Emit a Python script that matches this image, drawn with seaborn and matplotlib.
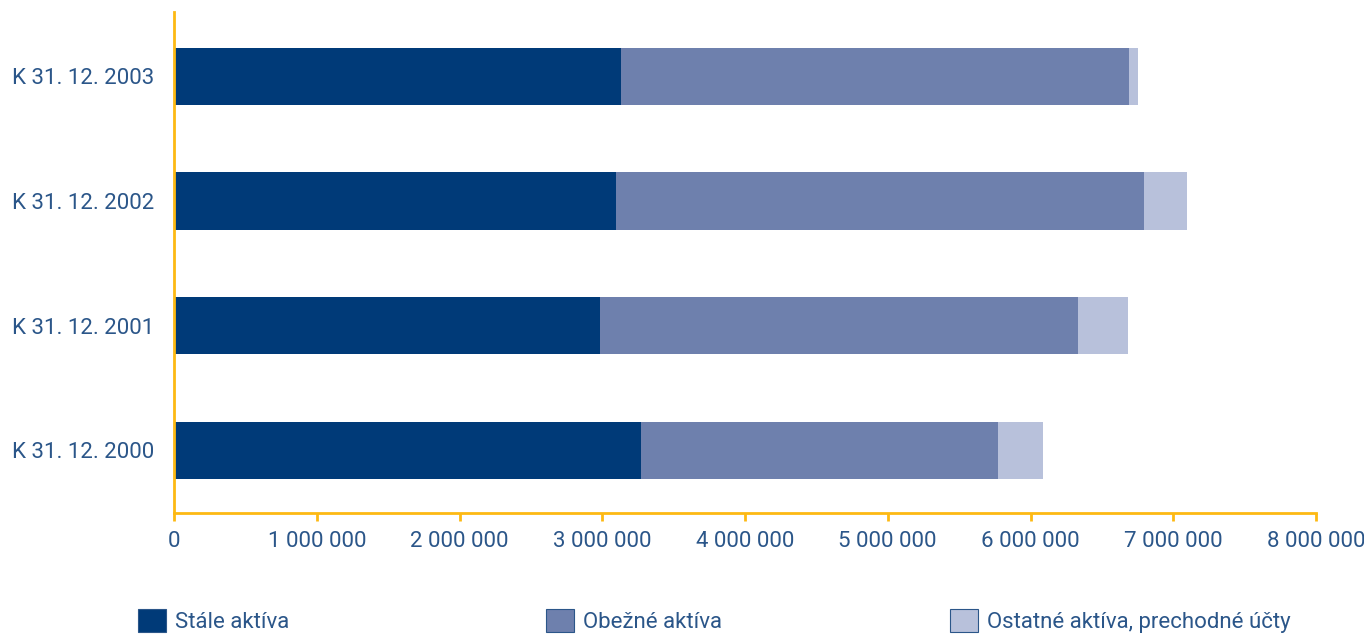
import pandas as pd
import matplotlib
matplotlib.use("Agg")
import matplotlib.pyplot as plt
import matplotlib.ticker as ticker
from matplotlib.patches import Patch
import seaborn as sns

# data (thousands of SKK)
periods = ["K 31. 12. 2003", "K 31. 12. 2002", "K 31. 12. 2001", "K 31. 12. 2000"]
stale = [3131000, 3096000, 2984000, 3271000]
obezne = [3559000, 3699000, 3349000, 2501000]
ostatne = [63000, 301000, 350000, 315000]
series_names = ["Stále aktíva", "Obežné aktíva", "Ostatné aktíva, prechodné účty"]
colors = ["#003a78", "#6e80ad", "#b8c1db"]

text_color = "#2b5689"
axis_color = "#fdb913"

df = pd.DataFrame({"period": periods, "stale": stale, "obezne": obezne, "ostatne": ostatne})
df["c1"] = df["stale"]
df["c2"] = df["c1"] + df["obezne"]
df["c3"] = df["c2"] + df["ostatne"]

sns.set_theme(style="white")
plt.rcParams["font.family"] = ["Roboto", "DejaVu Sans"]

fig = plt.figure(figsize=(13.64, 6.39), dpi=100)
ax = fig.add_axes([174 / 1364, 1 - 513 / 639, (1316 - 174) / 1364, (513 - 12) / 639])

# draw cumulative totals, largest first, so the stacks overlap correctly
for col, color in zip(["c3", "c2", "c1"], colors[::-1]):
    sns.barplot(data=df, x=col, y="period", orient="h", color=color,
                width=0.46, saturation=1, linewidth=0, ax=ax, order=periods)

ax.set_xlim(0, 8000000)
ax.set_ylim(3.503, -0.515)
ax.set_xlabel("")
ax.set_ylabel("")
ax.xaxis.set_major_locator(ticker.MultipleLocator(1000000))
ax.xaxis.set_major_formatter(ticker.FuncFormatter(lambda v, p: f"{int(v):,}".replace(",", " ")))

for side in ["top", "right"]:
    ax.spines[side].set_visible(False)
for side in ["left", "bottom"]:
    ax.spines[side].set_color(axis_color)
    ax.spines[side].set_linewidth(2)

ax.tick_params(axis="x", bottom=True, colors=axis_color, length=6, width=2, direction="out",
               labelcolor=text_color, labelsize=16, pad=7)
ax.tick_params(axis="y", left=False, length=0, labelcolor=text_color, labelsize=16, pad=14)

# legend: three separate entries spread along the bottom
legend_x = [138, 546, 950]
for name, color, x in zip(series_names, colors, legend_x):
    leg = fig.legend(handles=[Patch(facecolor=color, edgecolor=text_color, linewidth=0.8)],
                     labels=[name], loc="center left",
                     bbox_to_anchor=(x / 1364, 1 - 621 / 639), frameon=False,
                     fontsize=16, handlelength=1.25, handleheight=1.25,
                     handletextpad=0.4, borderpad=0, borderaxespad=0)
    for t in leg.get_texts():
        t.set_color(text_color)

fig.savefig("out.png", dpi=100)
